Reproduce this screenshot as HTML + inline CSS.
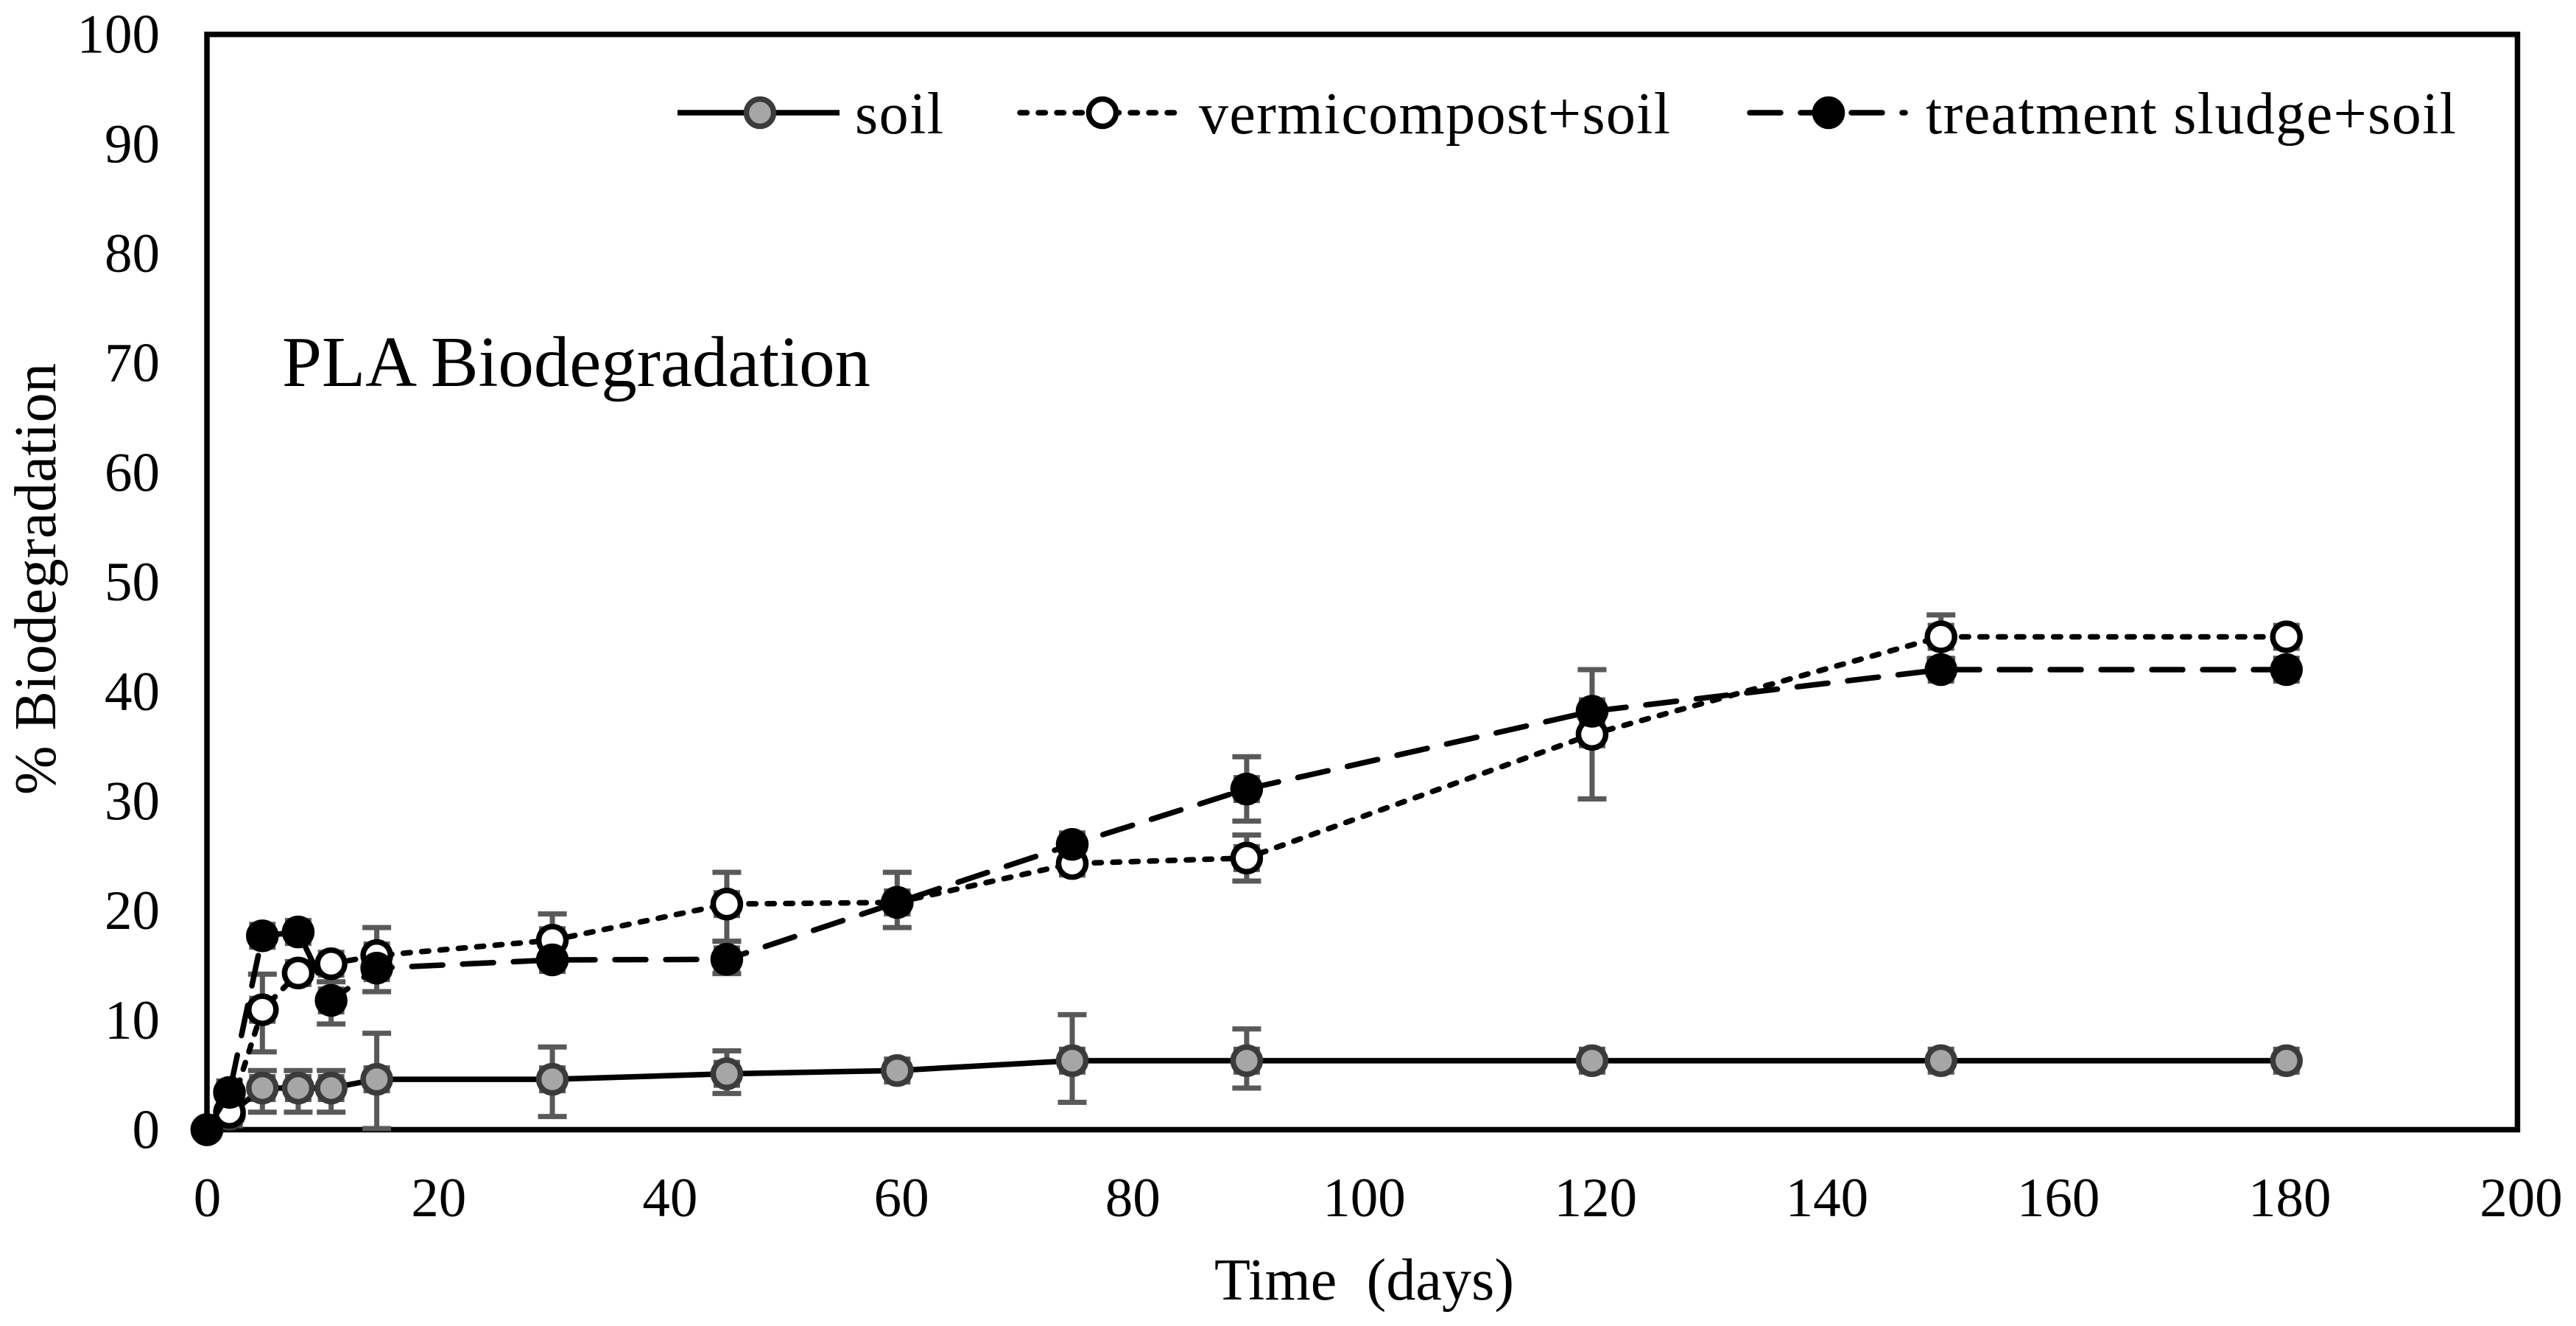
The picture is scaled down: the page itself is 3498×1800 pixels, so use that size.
<!DOCTYPE html>
<html lang="en">
<head>
<meta charset="utf-8">
<title>PLA Biodegradation</title>
<style>
html,body{margin:0;padding:0;background:#fff;}
svg{display:block;}
text{font-family:"Liberation Serif",serif;fill:#000;}
</style>
</head>
<body>
<svg id="chart" xmlns="http://www.w3.org/2000/svg" width="3498" height="1800" viewBox="0 0 3498 1800">
  <rect x="0" y="0" width="3498" height="1800" fill="#ffffff"/>
  <rect x="281" y="46.7" width="3137.5" height="1486.8" fill="none" stroke="#000" stroke-width="7.5"/>
  <g id="y-ticks"></g>
  <g id="x-ticks"></g>
  <g id="errors"></g>
  <g id="series"></g>
  <text x="383" y="524" font-size="97" textLength="799" lengthAdjust="spacing">PLA Biodegradation</text>
  <text x="1649" y="1764" font-size="80" textLength="407" lengthAdjust="spacing" xml:space="preserve" style="white-space:pre">Time  (days)</text>
  <text transform="translate(75 1079) rotate(-90)" x="0" y="0" font-size="80" textLength="586" lengthAdjust="spacing">% Biodegradation</text>
  <g>
    <g>
      <line x1="920" y1="153" x2="1140" y2="153" stroke="#000" stroke-width="7.5"/>
      <circle cx="1032" cy="153" r="18.5" fill="#a6a6a6" stroke="#3b3b3b" stroke-width="7.5"/>
      <text x="1161" y="181" font-size="80" textLength="120" lengthAdjust="spacing">soil</text>
    </g>
    <g>
      <line x1="1385" y1="153" x2="1605" y2="153" stroke="#000" stroke-width="7.5" stroke-linecap="round" stroke-dasharray="9.5 15.5"/>
      <circle cx="1497" cy="153" r="18.5" fill="#fff" stroke="#000" stroke-width="7.5"/>
      <text x="1628" y="181" font-size="80" textLength="640" lengthAdjust="spacing">vermicompost+soil</text>
    </g>
    <g>
      <line x1="2376" y1="153" x2="2587" y2="153" stroke="#000" stroke-width="7.5" stroke-linecap="round" stroke-dasharray="42 27"/>
      <circle cx="2483" cy="153" r="18.5" fill="#000" stroke="#000" stroke-width="7.5"/>
      <text x="2615" y="181" font-size="80" textLength="720" lengthAdjust="spacing">treatment sludge+soil</text>
    </g>
  </g>
</svg>
<script>
const days = [0, 1.95, 4.8, 7.9, 10.75, 14.7, 29.9, 45, 59.75, 74.9, 90, 119.9, 150.1, 180];
const soilValues = [0, 1.4, 3.8, 3.8, 3.8, 4.6, 4.6, 5.1, 5.4, 6.3, 6.3, 6.3, 6.3, 6.3];
const vermiValues = [0, 1.6, 10.95, 14.3, 15.15, 15.9, 17.3, 20.6, 20.75, 24.3, 24.8, 36.1, 45, 45];
const sludgeValues = [0, 3.4, 17.7, 18.05, 11.8, 14.75, 15.5, 15.55, 20.75, 26.05, 31.1, 38.2, 42, 42];
const soilHigh = [null, null, 5.4, 5.4, 5.4, 8.8, 7.55, 7.2, null, 10.5, 9.2, null, null, null];
const soilLow = [null, null, 1.6, 1.6, 1.6, 0.1, 1.2, 3.3, null, 2.5, 3.8, null, null, null];
const vermiHigh = [null, null, 14.2, null, null, 18.45, 19.7, 23.5, 23.5, null, 26.9, 42, 47, null];
const vermiLow = [null, null, 7.1, null, null, 12.6, 15.2, 17.2, 18.45, null, 22.7, 30.2, 43, null];
const sludgeHigh = [null, null, null, null, 13.5, null, null, 17.2, null, null, 34.05, null, null, null];
const sludgeLow = [null, null, null, null, 9.65, null, null, 14.25, null, null, 28.17, null, null, null];
const yTickLabels = [0, 10, 20, 30, 40, 50, 60, 70, 80, 90, 100];
const xTickLabels = [0, 20, 40, 60, 80, 100, 120, 140, 160, 180, 200];

const NS = 'http://www.w3.org/2000/svg';
const xScale = v => 281 + v * 15.6875;
const yScale = v => 1533.5 - v * 14.868;
const xLabelScale = v => 281.5 + v * 15.71;
const make = (tag, attrs, parent) => {
  const el = document.createElementNS(NS, tag);
  for (const k in attrs) el.setAttribute(k, attrs[k]);
  parent.appendChild(el);
  return el;
};

const yGroup = document.getElementById('y-ticks');
yTickLabels.forEach(v => {
  const el = make('text', {x: 217, y: yScale(v) + 25, 'font-size': 75, 'text-anchor': 'end'}, yGroup);
  
  
  el.textContent = v;
});

const xGroup = document.getElementById('x-ticks');
xTickLabels.forEach(v => {
  const el = make('text', {x: xLabelScale(v), y: 1651, 'font-size': 75, 'text-anchor': 'middle'}, xGroup);
  
  
  el.textContent = v;
});

const errColor = '#595959';
const errGroup = document.getElementById('errors');
const drawErrors = (high, low) => {
  days.forEach((d, i) => {
    if (high[i] === null) return;
    const x = xScale(d);
    const y1 = yScale(high[i]);
    const y2 = yScale(low[i]);
    const stem = make('line', {x1: x, x2: x, y1: y1, y2: y2, stroke: errColor, 'stroke-width': 7}, errGroup);
    
    
    const top = make('line', {x1: x - 19.5, x2: x + 19.5, y1: y1, y2: y1, stroke: errColor, 'stroke-width': 7}, errGroup);
    
    
    const bottom = make('line', {x1: x - 19.5, x2: x + 19.5, y1: y2, y2: y2, stroke: errColor, 'stroke-width': 7}, errGroup);
    
    
  });
};
const drawBacks = values => {
  days.forEach((d, i) => {
    if (d === 0) return;
    const back = make('rect', {x: xScale(d) - 18, y: yScale(values[i]) - 19, width: 36, height: 38, fill: errColor}, errGroup);
    
    
  });
};
[soilValues, vermiValues, sludgeValues].forEach(drawBacks);
drawErrors(soilHigh, soilLow);
drawErrors(vermiHigh, vermiLow);
drawErrors(sludgeHigh, sludgeLow);

const seriesGroup = document.getElementById('series');
const drawSeries = (name, values, dash, fill, stroke) => {
  const pts = days.map((d, i) => xScale(d) + ',' + yScale(values[i])).join(' ');
  const attrs = {points: pts, fill: 'none', stroke: '#000', 'stroke-width': 7.5};
  if (dash) {
    attrs['stroke-dasharray'] = dash;
    attrs['stroke-linecap'] = 'round';
  }
  const line = make('polyline', attrs, seriesGroup);
  
  
  days.forEach((d, i) => {
    const p = make('circle', {cx: xScale(d), cy: yScale(values[i]), r: 18.5, fill: fill, stroke: stroke, 'stroke-width': 7.5}, seriesGroup);
    
    
  });
};
drawSeries('soil', soilValues, null, '#a6a6a6', '#3b3b3b');
drawSeries('vermicompost', vermiValues, '9.5 15.5', '#ffffff', '#000000');
drawSeries('sludge', sludgeValues, '42 27', '#000000', '#000000');
</script>
</body>
</html>
